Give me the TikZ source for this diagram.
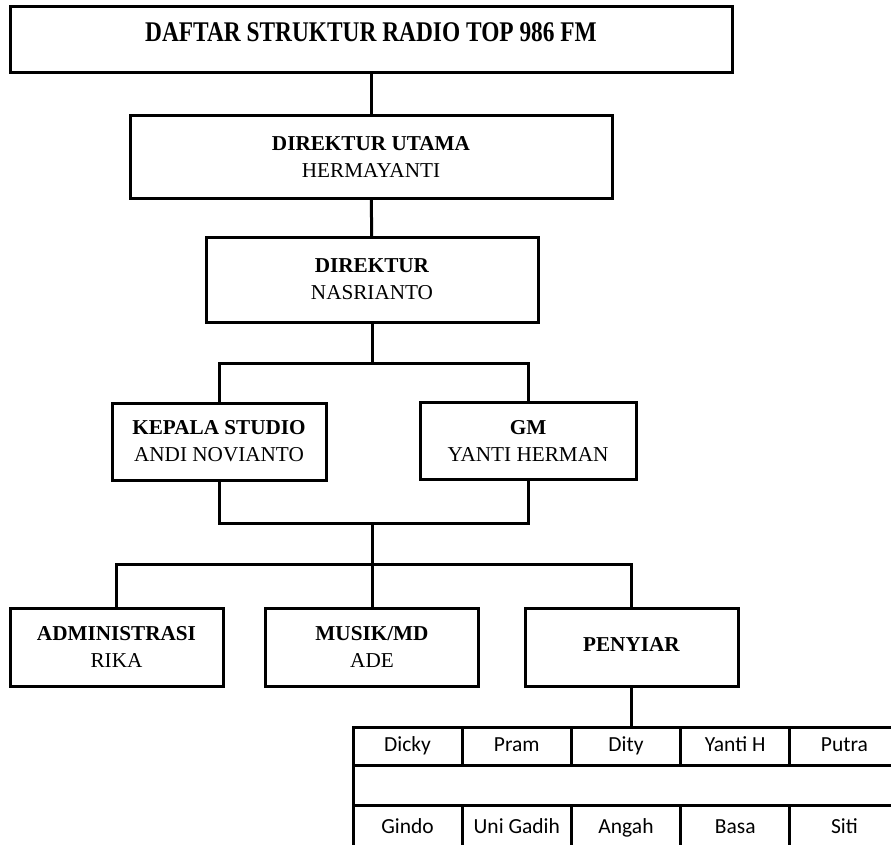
\documentclass[tikz,border=0pt]{standalone}
\usepackage{fontspec}
\setmainfont{Liberation Serif}
\newfontfamily\judulfont[FakeStretch=0.82]{Liberation Serif}
\newfontfamily\selfont{Carlito}
\usepackage{tikz}
\usetikzlibrary{positioning}
\tikzset{
    %Define style for boxes
    jabatan/.style={
           rectangle,
           draw=black, line width=3pt,
           outer sep=0pt, inner sep=0pt,
           align=center,
           font=\fontsize{21.2}{27}\selectfont},
    judul/.style={
           jabatan,
           minimum width=722pt,
           minimum height=66pt,
           text depth=13pt,
           font=\judulfont\bfseries\fontsize{28.5}{30}\selectfont},
    % Define style for table cells
    sel/.style={
           rectangle,
           draw=black, line width=3pt,
           outer sep=0pt, inner sep=0pt,
           minimum width=109.2pt,
           minimum height=38pt,
           text height=14pt, text depth=4pt,
           font=\selfont\fontsize{21.5}{24}\selectfont},
    % Define line style
    garis/.style={
           line width=3pt}
}
\begin{document}
\begin{tikzpicture}[x=1pt,y=-1pt,node distance=40pt]
\useasboundingbox (0,0) rectangle (891,844);
\clip (0,0) rectangle (891,844);

 %nodes
\node[judul] (title) at (371,39) {DAFTAR STRUKTUR RADIO TOP 986 FM};
\node[jabatan, minimum width=482pt, minimum height=83pt, below=43pt of title] (dirut)
    {\textbf{DIREKTUR UTAMA}\\HERMAYANTI};
\node[jabatan, minimum width=332pt, minimum height=85pt, below=39pt of dirut, xshift=1pt] (dir)
    {\textbf{DIREKTUR}\\NASRIANTO};
\node[jabatan, minimum width=214pt, minimum height=77pt] (kastudio) at (219,441.5)
    {\textbf{KEPALA STUDIO}\\ANDI NOVIANTO};
\node[jabatan, minimum width=216pt, minimum height=77pt] (gm) at (528,440.5)
    {\textbf{GM}\\YANTI HERMAN};
\node[jabatan, minimum width=213pt, minimum height=78pt] (admin) at (116.5,647)
    {\textbf{ADMINISTRASI}\\RIKA};
\node[jabatan, minimum width=213pt, minimum height=78pt] (musik) at (372,647)
    {\textbf{MUSIK/MD}\\ADE};
\node[jabatan, minimum width=213pt, minimum height=78pt, text depth=6pt] (penyiar) at (631.5,647)
    {\textbf{PENYIAR}};

 %branch points
\coordinate (cabang1) at (372,363);
\coordinate (gabung) at (372,523);
\coordinate (cabang2) at (372,564);

 %penyiar table
\node[sel] (s11) at (407.6,746) {Dicky};
\node[sel, right=0pt of s11] (s12) {Pram};
\node[sel, right=0pt of s12] (s13) {Dity};
\node[sel, right=0pt of s13] (s14) {Yanti H};
\node[sel, right=0pt of s14] (s15) {Putra};
\node[sel, minimum width=546pt, minimum height=40pt, below=0pt of s11.south west, anchor=north west] (s2) {};
\node[sel, minimum height=46pt, below=0pt of s2.south west, anchor=north west] (s31) {Gindo};
\node[sel, minimum height=46pt, right=0pt of s31] (s32) {Uni Gadih};
\node[sel, minimum height=46pt, right=0pt of s32] (s33) {Angah};
\node[sel, minimum height=46pt, right=0pt of s33] (s34) {Basa};
\node[sel, minimum height=46pt, right=0pt of s34] (s35) {Siti};

 %lines
\draw[garis] (title) -- (dirut);
\draw[garis] (dirut) -- (dir);
\draw[garis] (dir) -- (cabang1) -| (kastudio);
\draw[garis] (cabang1) -| (gm);
\draw[garis] (kastudio) |- (gabung) -| (gm);
\draw[garis] (gabung) -- (cabang2);
\draw[garis] (admin) |- (cabang2) -| (penyiar);
\draw[garis] (cabang2) -- (musik);
\draw[garis] (penyiar) -- (penyiar |- s11.north);
\end{tikzpicture}
\end{document}
